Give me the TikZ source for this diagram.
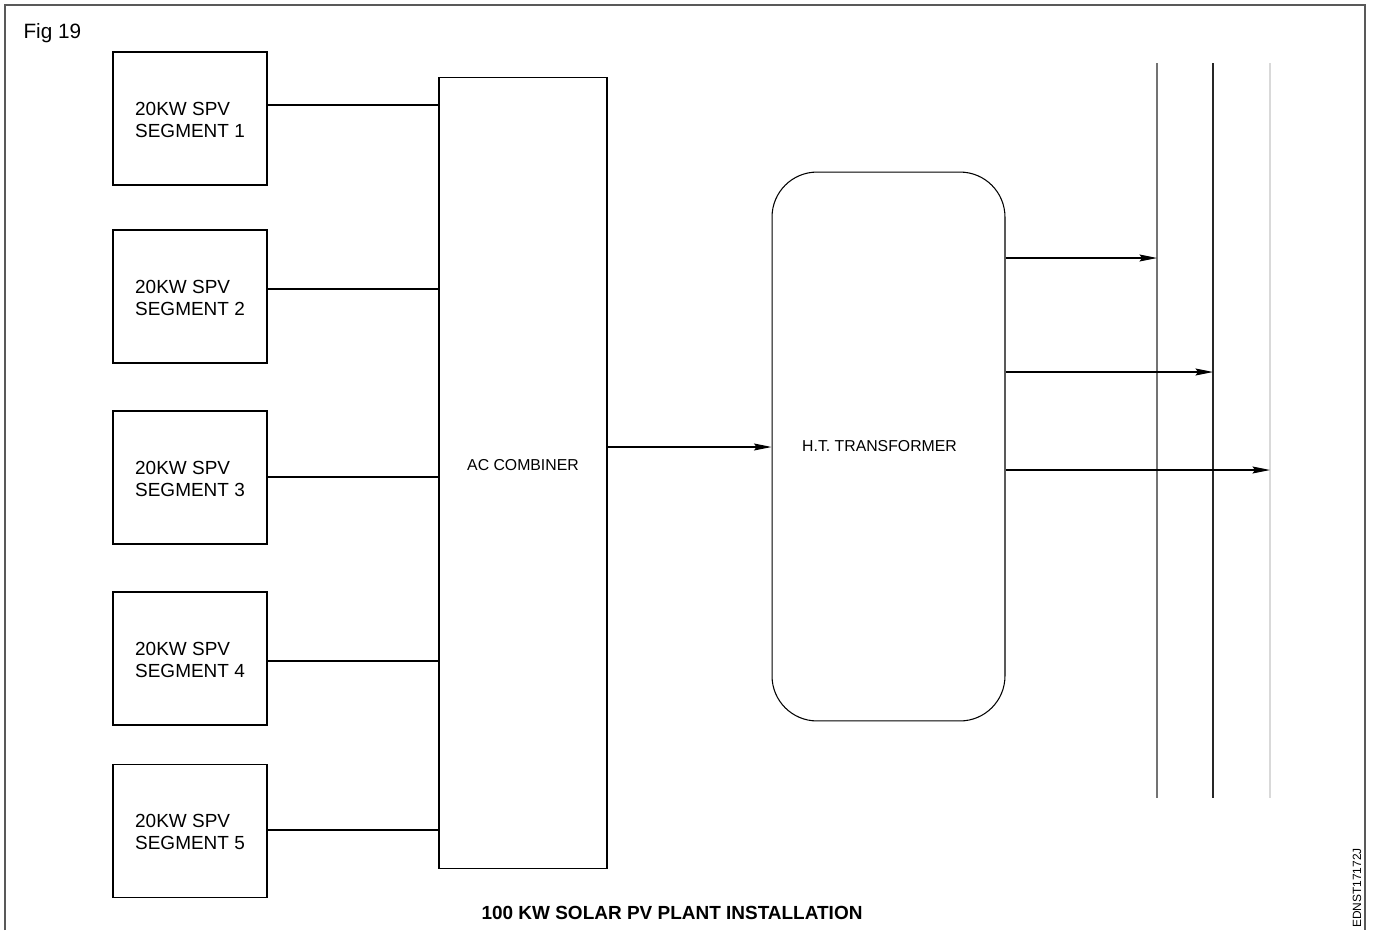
\documentclass[tikz,border=0pt]{standalone}
\usepackage{fontspec}
\setmainfont{Liberation Sans}
\usetikzlibrary{arrows.meta, positioning, calc}

\begin{document}
\begin{tikzpicture}[
    x=0.02cm, y=-0.02cm,
    line width=0.6pt,
    every node/.style={font=\fontsize{10.8}{12.5}\selectfont, inner sep=0pt},
    segbox/.style={draw, minimum width=3.08cm, minimum height=2.66cm, align=left},
    feed/.style={-{Stealth[length=10pt, width=4pt, inset=1.5pt]}},
  ]
  \useasboundingbox (0,0) rectangle (1373,930);

  % frame
  \draw[black!65] (5,930) -- (5,5) -- (1365,5) -- (1365,930);
  \node[anchor=base west, font=\fontsize{11.8}{14}\selectfont] (fig) at (23,38) {Fig 19};

  % segments
  \node[segbox] (s1) at (190,118.5) {\strut20KW SPV\\SEGMENT 1};
  \node[segbox] (s2) at (190,296.5) {\strut20KW SPV\\SEGMENT 2};
  \node[segbox] (s3) at (190,477.5) {\strut20KW SPV\\SEGMENT 3};
  \node[segbox] (s4) at (190,658.5) {\strut20KW SPV\\SEGMENT 4};
  \node[segbox] (s5) at (190,831) {\strut20KW SPV\\SEGMENT 5};

  \node[draw, minimum width=3.36cm, minimum height=15.84cm,
    label={[yshift=0.16cm, font=\fontsize{9}{11}\selectfont]center:AC COMBINER},
  ] (ac) at (523,473) {};

  \node[draw, rounded corners=0.9cm, minimum width=4.66cm, minimum height=10.98cm,
    label={[xshift=-0.18cm, font=\fontsize{9}{11}\selectfont]center:H.T. TRANSFORMER},
  ] (ht) at (888.5,446.5) {};

  \foreach \i/\y in {1/105, 2/289, 3/477, 4/661, 5/830}
    \draw (s\i.east |- 0,\y) -- (ac.west |- 0,\y);

  \draw[feed] (ac.east |- 0,447) -- (ht.west |- 0,447);

  % bus bars
  \coordinate (busA) at (1157,63);
  \coordinate (busB) at (1213,63);
  \coordinate (busC) at (1270,63);
  \draw[black!55] (busA) -- ++(0,735);
  \draw[black!85] (busB) -- ++(0,735);
  \draw[black!15] (busC) -- ++(0,735);

  \draw[feed] (ht.east |- 0,258) -- (busA |- 0,258);
  \draw[feed] (ht.east |- 0,372) -- (busB |- 0,372);
  \draw[feed] (ht.east |- 0,470) -- (busC |- 0,470);

  \node[anchor=base, font=\bfseries\fontsize{10.8}{13}\selectfont] (title) at (672,919) {100 KW SOLAR PV PLANT INSTALLATION};
  \node[rotate=90, font=\fontsize{6.8}{8}\selectfont] (code) at (1357,888) {EDNST17172J};
\end{tikzpicture}
\end{document}
